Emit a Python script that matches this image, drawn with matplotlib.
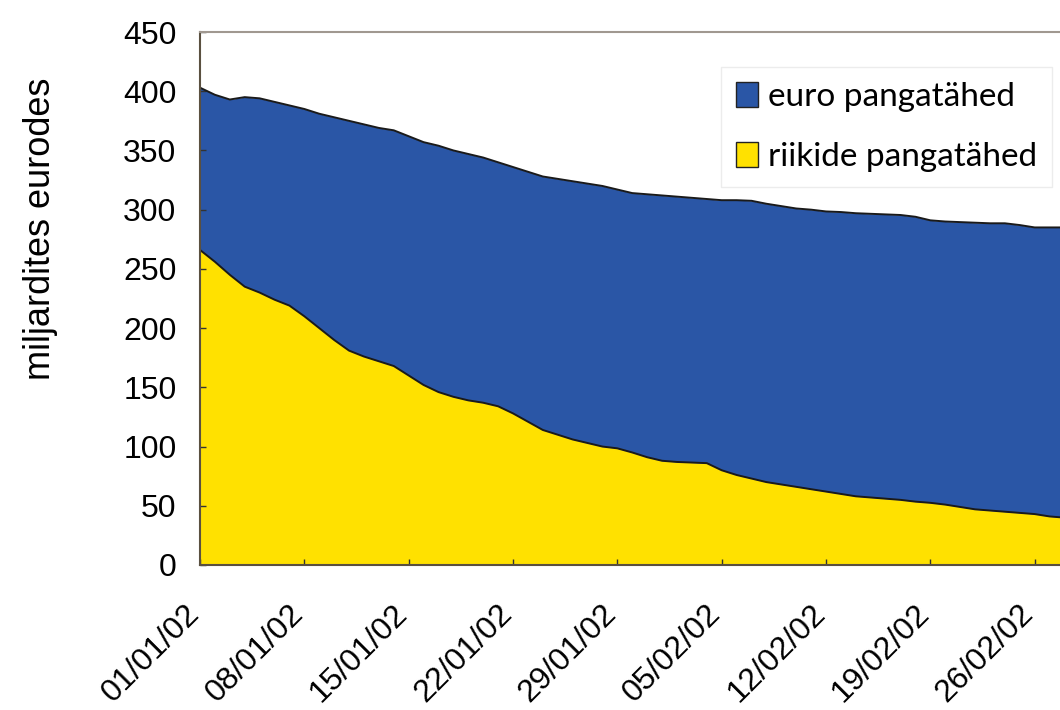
import numpy as np
import matplotlib
matplotlib.use("Agg")
import matplotlib.pyplot as plt
import matplotlib.transforms as mtransforms
from matplotlib.patches import Patch

plt.rcParams['font.family'] = ['Liberation Sans', 'DejaVu Sans']
plt.rcParams['xtick.direction'] = 'in'
plt.rcParams['ytick.direction'] = 'in'

# days since 01/01/02
days = np.arange(0, 59)

# total banknotes in circulation (top of the stack), bn EUR
total = [403, 397, 393, 395, 394, 391, 388, 385, 381, 378,
         375, 372, 369, 367, 362, 357, 354, 350, 347, 344,
         340, 336, 332, 328, 326, 324, 322, 320, 317, 314,
         313, 312, 311, 310, 309, 308, 308, 307.5, 305, 303,
         301, 300, 298.5, 298, 297, 296.5, 296, 295.5, 294, 291,
         290, 289.5, 289, 288.5, 288.5, 287, 285, 285, 285]

# national banknotes, bn EUR
national = [266, 256, 245, 235, 230, 224, 219, 210, 200, 190,
            181, 176, 172, 168, 160, 152, 146, 142, 139, 137,
            134, 128, 121, 114, 110, 106, 103, 100, 98.5, 95,
            91, 88, 87, 86.5, 86, 80, 76, 73, 70, 68,
            66, 64, 62, 60, 58, 57, 56, 55, 53.5, 52.5,
            51, 49, 47, 46, 45, 44, 43, 41, 40]

tick_days = [0, 7, 14, 21, 28, 35, 42, 49, 56]
tick_labels = ['01/01/02', '08/01/02', '15/01/02', '22/01/02', '29/01/02',
               '05/02/02', '12/02/02', '19/02/02', '26/02/02']

blue = '#2A56A6'
yellow = '#FFE100'

fig = plt.figure(figsize=(10.6, 7.1), dpi=100)
ax = fig.add_axes([200/1060, 1 - 565/710, 1 - 200/1060, (565 - 32)/710])

ax.fill_between(days, 0, national, color=yellow, linewidth=0)
ax.fill_between(days, national, total, color=blue, linewidth=0)
ax.plot(days, national, color='#1a1a1a', linewidth=1.4)
ax.plot(days, total, color='#1a1a1a', linewidth=1.4)

ax.set_xlim(0, 57.7)
ax.set_ylim(0, 450)
ax.set_yticks(np.arange(0, 451, 50))
ax.set_xticks(tick_days)
ax.set_xticklabels(tick_labels, rotation=45, ha='right', va='top',
                   rotation_mode='anchor')
ax.tick_params(axis='y', labelsize=23, length=4, width=1, pad=17, color='#333')
ax.tick_params(axis='x', labelsize=23, length=4, width=1, pad=24, color='#333')
# shift the slanted date labels a bit to the left
shift = mtransforms.ScaledTranslation(-16/100, 0, fig.dpi_scale_trans)
for lab in ax.get_xticklabels():
    lab.set_transform(lab.get_transform() + shift)

ax.set_ylabel('miljardites eurodes', fontsize=26)
ax.yaxis.set_label_coords(-0.165, 0.63)

for s in ['left', 'bottom']:
    ax.spines[s].set_color('#5a5040')
    ax.spines[s].set_linewidth(1.5)
ax.spines['top'].set_color('#a09890')
ax.spines['top'].set_linewidth(1.5)
ax.spines['right'].set_visible(False)

handles = [Patch(facecolor=blue, edgecolor='#222', linewidth=1),
           Patch(facecolor=yellow, edgecolor='#222', linewidth=1)]
leg = ax.legend(handles, ['euro pangatähed', 'riikide pangatähed'],
                loc='upper left', bbox_to_anchor=(0.587, 0.965),
                prop={'family': ['Lato', 'DejaVu Sans'], 'size': 24},
                frameon=True, fancybox=False, framealpha=1,
                edgecolor='#ececec', handlelength=0.65, handleheight=0.75,
                handletextpad=0.3, labelspacing=0.9, borderpad=0.45)

fig.savefig('out.png', dpi=100)
